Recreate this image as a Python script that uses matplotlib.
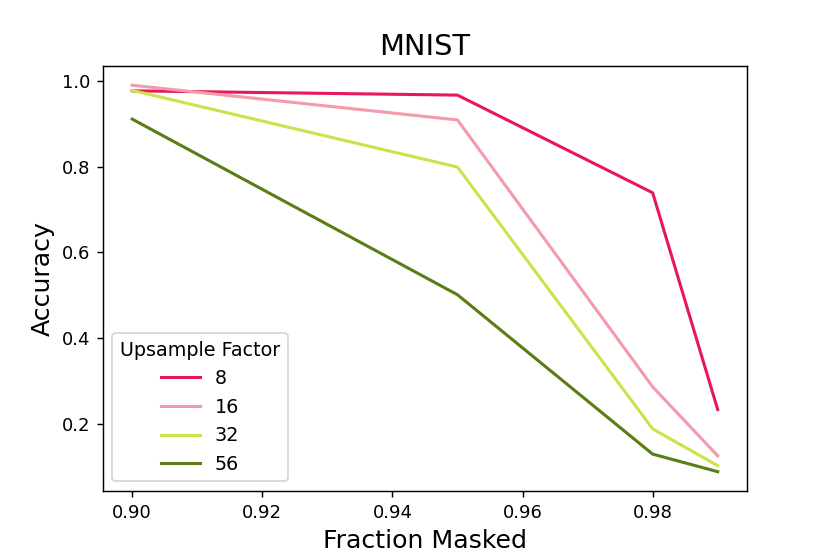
import matplotlib
matplotlib.use("Agg")
import matplotlib.pyplot as plt

fraction_masked = [0.90, 0.95, 0.98, 0.99]
upsample_factors = ["8", "16", "32", "56"]
acc_8 = [0.977, 0.967, 0.739, 0.233]
acc_16 = [0.990, 0.909, 0.286, 0.125]
acc_32 = [0.978, 0.799, 0.188, 0.102]
acc_56 = [0.911, 0.501, 0.129, 0.088]
colors = ["#e8175d", "#f59aaa", "#cbe34a", "#5a7d14"]

fig = plt.figure(figsize=(830 / 130, 554 / 130), dpi=130)
ax = fig.add_axes([0.124, 0.1137, 0.776, 0.7673])
for label, acc, color in zip(upsample_factors, [acc_8, acc_16, acc_32, acc_56], colors):
    ax.plot(fraction_masked, acc, color=color, linewidth=1.7, label=label)

ax.set_xticks([0.90, 0.92, 0.94, 0.96, 0.98])
ax.set_yticks([0.2, 0.4, 0.6, 0.8, 1.0])
ax.set_xlabel("Fraction Masked", fontsize=14)
ax.set_ylabel("Accuracy", fontsize=14)
ax.set_title("MNIST", fontsize=16)
ax.legend(title="Upsample Factor", loc="lower left", fontsize=10.6, title_fontsize=10.6)

fig.savefig("out.png", dpi=130)
